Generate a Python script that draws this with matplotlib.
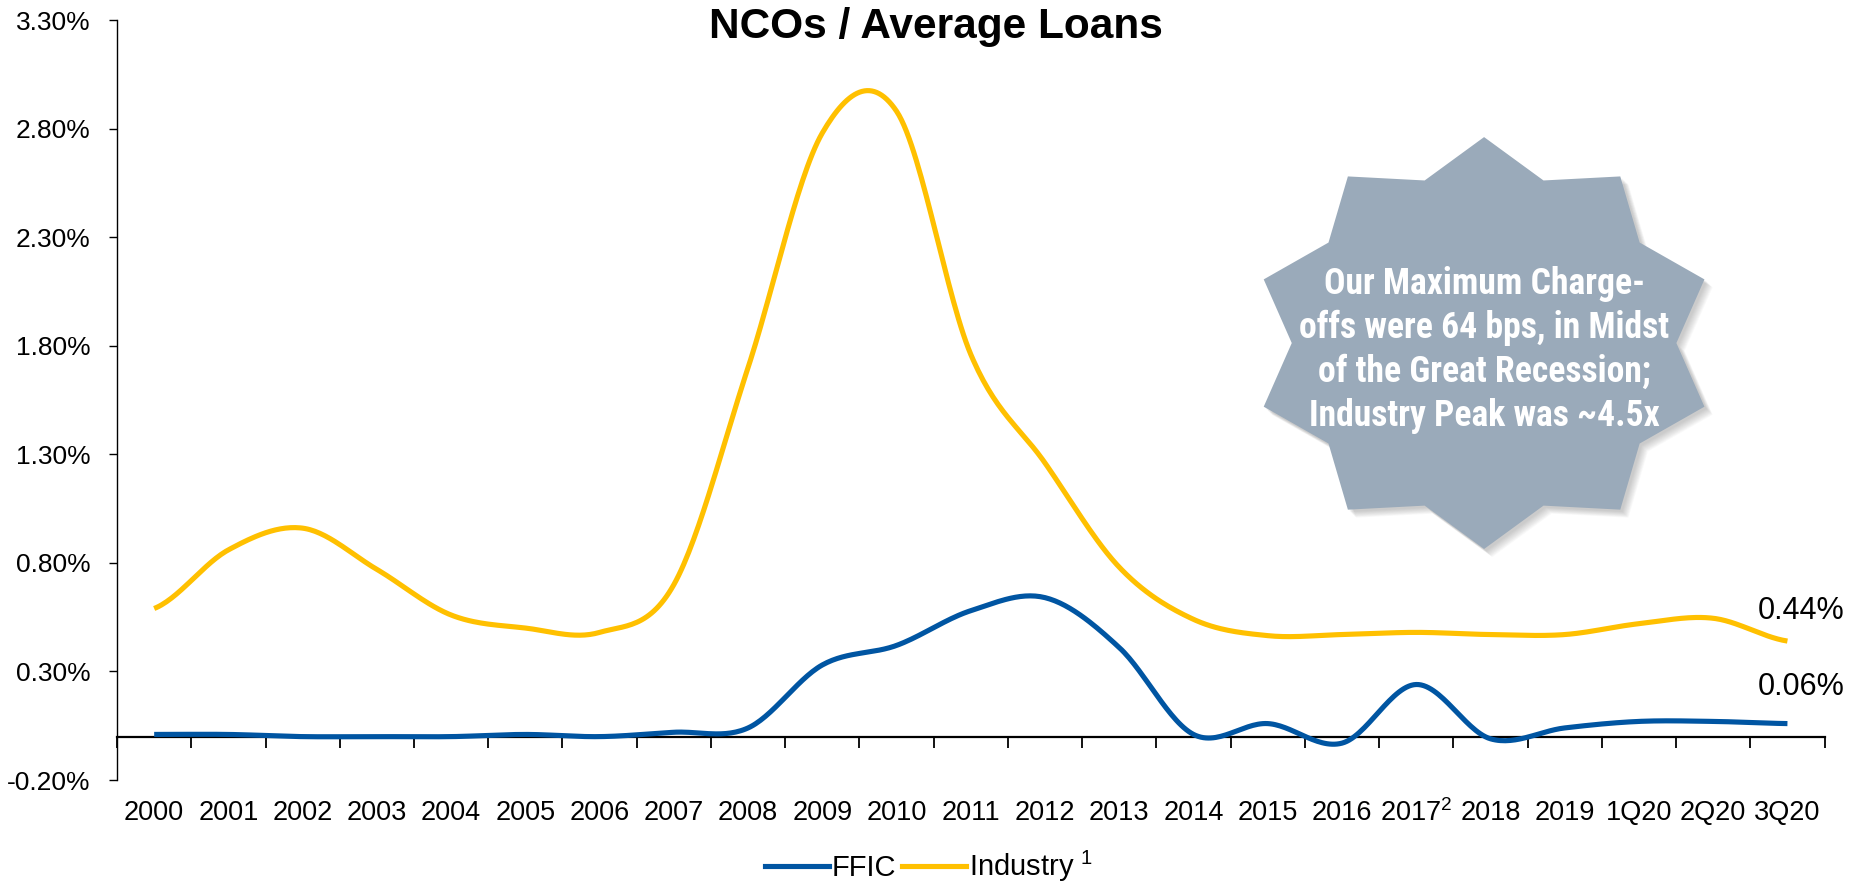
import numpy as np
import matplotlib.pyplot as plt
from matplotlib.patches import Polygon
from matplotlib.lines import Line2D

plt.rcParams['font.family'] = ['Liberation Sans', 'DejaVu Sans']
plt.rcParams['mathtext.fontset'] = 'custom'
plt.rcParams['mathtext.rm'] = 'Liberation Sans'
plt.rcParams['mathtext.default'] = 'regular'

# 연도/분기 구분
periods = ['2000', '2001', '2002', '2003', '2004', '2005', '2006', '2007',
           '2008', '2009', '2010', '2011', '2012', '2013', '2014', '2015',
           '2016', '2017$^{2}$', '2018', '2019', '1Q20', '2Q20', '3Q20']

# NCOs / 평균 대출 (%)
ffic = [0.01, 0.01, 0.00, 0.00, 0.00, 0.01, 0.00, 0.02, 0.04, 0.33, 0.42,
        0.58, 0.64, 0.41, 0.01, 0.06, -0.03, 0.24, -0.01, 0.04, 0.07, 0.07, 0.06]
industry = [0.59, 0.86, 0.96, 0.77, 0.56, 0.50, 0.48, 0.70, 1.70, 2.78, 2.88,
            1.76, 1.26, 0.78, 0.54, 0.465, 0.47, 0.48, 0.47, 0.47, 0.52, 0.545, 0.44]

yticks = [-0.20, 0.30, 0.80, 1.30, 1.80, 2.30, 2.80, 3.30]

blue = '#0055A2'
gold = '#FFC000'


def smooth(values, steps=30):
    # 엑셀식 부드러운 선 (Catmull-Rom)
    p = np.asarray(values, dtype=float)
    ext = np.concatenate([[p[0]], p, [p[-1]]])
    xs, ys = [], []
    for i in range(len(p) - 1):
        p0, p1, p2, p3 = ext[i], ext[i + 1], ext[i + 2], ext[i + 3]
        t = np.linspace(0, 1, steps, endpoint=False)
        m1 = (p2 - p0) / 2
        m2 = (p3 - p1) / 2
        h00 = 2 * t**3 - 3 * t**2 + 1
        h10 = t**3 - 2 * t**2 + t
        h01 = -2 * t**3 + 3 * t**2
        h11 = t**3 - t**2
        xs.append(i + t)
        ys.append(h00 * p1 + h10 * m1 + h01 * p2 + h11 * m2)
    xs.append([len(p) - 1])
    ys.append([p[-1]])
    return np.concatenate(xs), np.concatenate(ys)


fig = plt.figure(figsize=(18.58, 8.83), dpi=100)
ax = fig.add_axes([0.063, 0.1166, 0.919, 0.8607])

x = np.arange(len(periods))
sx, sy = smooth(industry)
ax.plot(sx, sy, color=gold, lw=3.7, solid_capstyle='butt', zorder=3)
sx, sy = smooth(ffic)
ax.plot(sx, sy, color=blue, lw=3.7, solid_capstyle='butt', zorder=4)

ax.set_xlim(-0.5, len(periods) - 0.5)
ax.set_ylim(-0.20, 3.30)

# 축 설정
ax.spines['top'].set_visible(False)
ax.spines['right'].set_visible(False)
ax.spines['bottom'].set_position(('data', 0))
ax.spines['bottom'].set_linewidth(1.6)
ax.spines['left'].set_linewidth(1.0)

ax.set_yticks(yticks)
ax.set_yticklabels([f'{v:.2f}%' for v in yticks], fontsize=19)
ax.tick_params(axis='y', length=6, width=1.0, pad=13)

ax.set_xticks(np.arange(len(periods) + 1) - 0.5)
ax.set_xticklabels([])
ax.tick_params(axis='x', direction='out', length=8, width=1.3)

for i, lab in enumerate(periods):
    ax.text(i, -0.043, lab, transform=ax.get_xaxis_transform(),
            ha='center', va='center', fontsize=19.5)

fig.text(0.504, 0.969, 'NCOs / Average Loans', fontsize=30.5, fontweight='bold',
         ha='center', va='center')

# 마지막 값 라벨
ax.annotate(f'{industry[-1]:.2f}%', (x[-1], industry[-1]), xytext=(10, 22),
            textcoords='offset points', ha='center', va='center', fontsize=22)
ax.annotate(f'{ffic[-1]:.2f}%', (x[-1], ffic[-1]), xytext=(10, 26),
            textcoords='offset points', ha='center', va='center', fontsize=22)

# 10각 별 도형
cx, cy, rx, ry, inner = 0.8006, 0.575, 0.1357, 0.271, 0.83
ang = np.deg2rad(90 + np.arange(20) * 18)
rad = np.where(np.arange(20) % 2 == 0, 1.0, inner)
pts = np.column_stack([cx + rx * rad * np.cos(ang), cy + ry * rad * np.sin(ang)])
for k in range(10):
    off = 0.0012 + k * 0.0004
    shadow = Polygon(pts + [off, -off * 2.2], closed=True, transform=ax.transAxes,
                     facecolor='#606060', edgecolor='none', alpha=0.035, zorder=5)
    ax.add_patch(shadow)
star = Polygon(pts, closed=True, transform=ax.transAxes, facecolor='#9AAABA',
               edgecolor='none', zorder=6)
ax.add_patch(star)
ax.text(cx, 0.566, 'Our Maximum Charge-\noffs were 64 bps, in Midst\n'
        'of the Great Recession;\nIndustry Peak was ~4.5x',
        transform=ax.transAxes, ha='center', va='center', color='white',
        fontsize=25.7, fontweight='bold', fontstretch='condensed', linespacing=1.28,
        family=['Liberation Sans Narrow', 'Roboto Condensed', 'DejaVu Sans'],
        zorder=7)

# 범례
handles = [Line2D([], [], color=blue, lw=3.7),
           Line2D([], [], color=gold, lw=3.7)]
fig.legend(handles, ['FFIC', 'Industry $^{1}$'], loc='center',
           bbox_to_anchor=(0.5, 0.019), ncol=2, frameon=False, fontsize=21,
           handlelength=2.2, handletextpad=0.1, columnspacing=0.2)

fig.savefig('out.png', dpi=100)
